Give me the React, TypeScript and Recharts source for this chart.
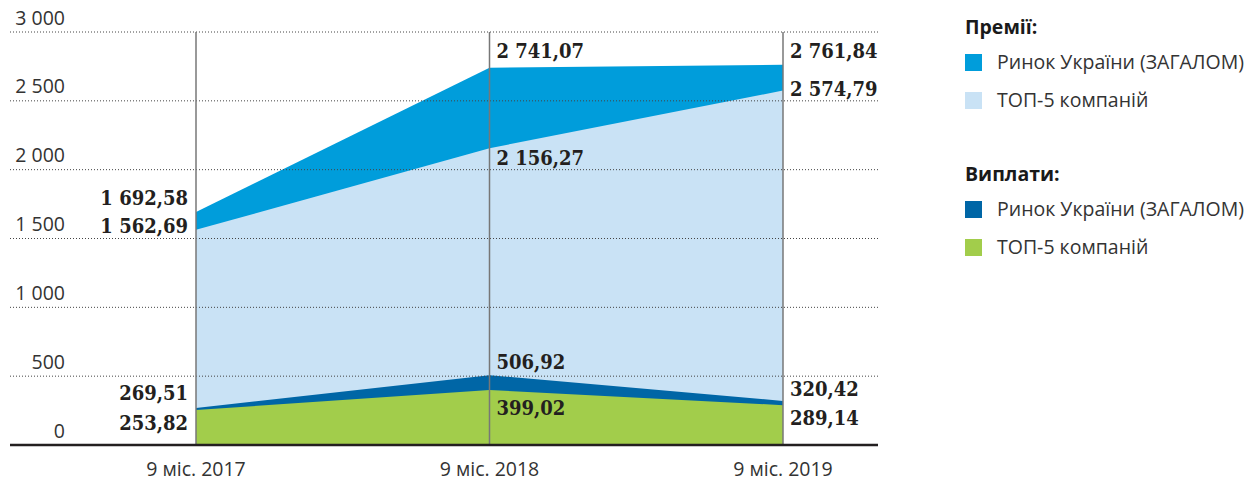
import React from 'react';
import { AreaChart, Area, XAxis, YAxis, ReferenceLine, LabelList } from 'recharts';

const periods = ['9 міс. 2017', '9 міс. 2018', '9 міс. 2019'];
const premiumsMarket = [1692.58, 2741.07, 2761.84];
const premiumsTop5 = [1562.69, 2156.27, 2574.79];
const paymentsMarket = [269.51, 506.92, 320.42];
const paymentsTop5 = [253.82, 399.02, 289.14];
const yTicks = [0, 500, 1000, 1500, 2000, 2500, 3000];
const yTickLabels = ['0', '500', '1 000', '1 500', '2 000', '2 500', '3 000'];

const rows = periods.map((p, i) => ({
    period: p,
    premMarket: premiumsMarket[i],
    premTop5: premiumsTop5[i],
    payMarket: paymentsMarket[i],
    payTop5: paymentsTop5[i],
}));

const SANS = '"Open Sans", "Noto Sans", sans-serif';
const SERIF = '"DejaVu Serif Condensed", "DejaVu Serif", serif';

const fmt = (v: number) => {
    const [a, b] = v.toFixed(2).split('.');
    return a.replace(/\B(?=(\d{3})+(?!\d))/g, ' ') + ',' + b;
};

// vertical offsets of the value labels from each point, per series
const labelShift: Record<string, number[]> = {
    premMarket: [-14, -17, -14],
    premTop5: [-4, 10, -2],
    payMarket: [-15, -13, -12],
    payTop5: [13, 18, 13],
};

const makeLabel = (key: string) => (props: any) => {
    const { x, y, value, index } = props;
    const first = index === 0;
    return (
        <text
            x={first ? x - 8 : x + 7}
            y={y + labelShift[key][index]}
            textAnchor={first ? 'end' : 'start'}
            dominantBaseline='central'
            fontFamily={SERIF}
            fontWeight='bold'
            fontSize={20}
            fill='#231f20'
        >
            {fmt(value)}
        </text>
    );
};

const yLabel = (text: string) => (props: any) => {
    const vb = props.viewBox || {};
    return (
        <text x={57} y={vb.y - 15} textAnchor='end' dominantBaseline='central' fontFamily={SANS} fontSize={19.5} fill='#333'>
            {text}
        </text>
    );
};

const XTick = (props: any) => {
    const { x, payload } = props;
    return (
        <text x={x} y={468} textAnchor='middle' dominantBaseline='central' fontFamily={SANS} fontSize={19.5} fill='#333'>
            {payload.value}
        </text>
    );
};

const legendGroups = [
    { title: 'Премії:', top: 27, items: [['Ринок України (ЗАГАЛОМ)', '#009ddb'], ['ТОП-5 компаній', '#c9e2f5']] },
    { title: 'Виплати:', top: 174, items: [['Ринок України (ЗАГАЛОМ)', '#0066a6'], ['ТОП-5 компаній', '#a2cd4b']] },
];

const Legendbox = () => (
    <div style={{ position: 'absolute', left: 957, top: 0, fontFamily: SANS, fontSize: 19.5, color: '#333' }}>
        {legendGroups.map((g) => (
            <React.Fragment key={g.title}>
                <div style={{ position: 'absolute', top: g.top - 13, left: 0, fontWeight: 700, color: '#1a1a1a', whiteSpace: 'nowrap', lineHeight: '26px' }}>
                    {g.title}
                </div>
                {g.items.map(([name, color], i) => (
                    <div key={name} style={{ position: 'absolute', top: g.top + 35 + i * 38 - 13, left: 0, display: 'flex', alignItems: 'center', whiteSpace: 'nowrap', lineHeight: '26px' }}>
                        <span style={{ width: 17, height: 17, background: color, display: 'inline-block', marginRight: 15 }} />
                        {name}
                    </div>
                ))}
            </React.Fragment>
        ))}
    </div>
);

export default function App() {
    return (
        <div style={{ position: 'relative', width: 1244, height: 486, marginTop: -8 }}>
            <AreaChart width={1244} height={486} data={rows} margin={{ top: 32, right: 374, bottom: 11, left: 2 }}>
                <XAxis
                    dataKey='period'
                    padding={{ left: 186, right: 95 }}
                    axisLine={{ stroke: '#231f20', strokeWidth: 2.5 }}
                    tickLine={false}
                    tick={<XTick />}
                    height={30}
                    interval={0}
                />
                <YAxis domain={[0, 3000]} ticks={yTicks} hide />
                <Area dataKey='premMarket' type='linear' stroke='none' fill='#009ddb' fillOpacity={1} isAnimationActive={false}>
                    <LabelList dataKey='premMarket' content={makeLabel('premMarket')} />
                </Area>
                <Area dataKey='premTop5' type='linear' stroke='none' fill='#c9e2f5' fillOpacity={1} isAnimationActive={false}>
                    <LabelList dataKey='premTop5' content={makeLabel('premTop5')} />
                </Area>
                <Area dataKey='payMarket' type='linear' stroke='none' fill='#0066a6' fillOpacity={1} isAnimationActive={false}>
                    <LabelList dataKey='payMarket' content={makeLabel('payMarket')} />
                </Area>
                <Area dataKey='payTop5' type='linear' stroke='none' fill='#a2cd4b' fillOpacity={1} isAnimationActive={false}>
                    <LabelList dataKey='payTop5' content={makeLabel('payTop5')} />
                </Area>
                {yTicks.map((t, i) => (
                    <ReferenceLine
                        key={t}
                        y={t}
                        stroke={t === 0 ? 'none' : '#444'}
                        strokeWidth={1}
                        strokeDasharray='1 2'
                        label={yLabel(yTickLabels[i])}
                    />
                ))}
                {periods.map((p) => (
                    <ReferenceLine key={p} x={p} stroke='#777' strokeWidth={1.5} />
                ))}
            </AreaChart>
            <Legendbox />
        </div>
    );
}
